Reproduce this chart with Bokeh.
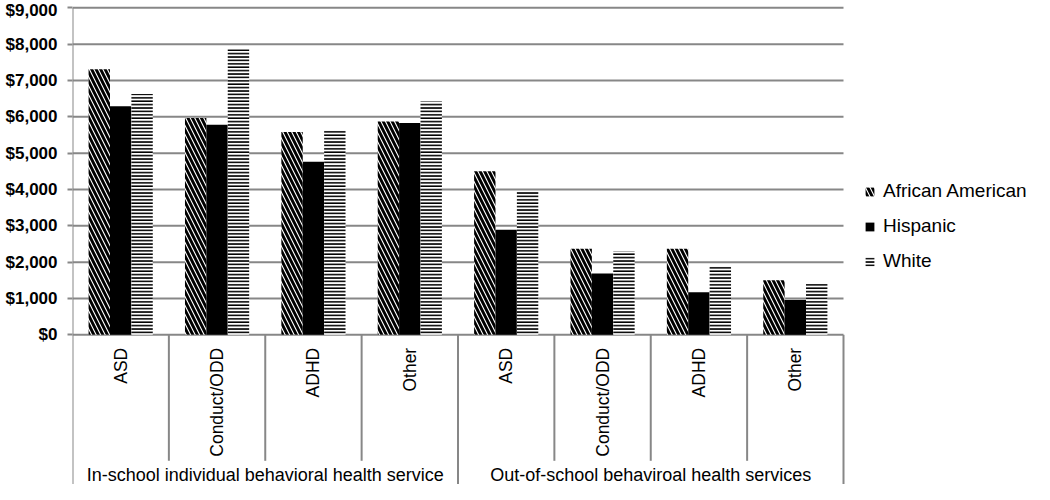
import math
from bokeh.plotting import figure
from bokeh.models import (ColumnDataSource, Range1d, FixedTicker, NumeralTickFormatter,
                          Legend, LegendItem)
from bokeh.core.properties import value
from bokeh.embed import file_html
from bokeh.resources import INLINE

# ---------------- data ----------------
groups = ["In-school individual behavioral health service",
          "Out-of-school behaviroal health services"]
conditions = ["ASD", "Conduct/ODD", "ADHD", "Other"]
series_names = ["African American", "Hispanic", "White"]
african_american = [7310, 5970, 5580, 5870, 4500, 2370, 2370, 1500]
hispanic = [6290, 5780, 4760, 5830, 2890, 1690, 1170, 960]
white = [6630, 7860, 5630, 6420, 3930, 2290, 1890, 1400]
y_ticks = [0, 1000, 2000, 3000, 4000, 5000, 6000, 7000, 8000, 9000]

# ---------------- layout constants (pixels) ----------------
W, H = 1034, 484
BORDER_LEFT = 72
BORDER_TOP = 5
PX_X = 771 / 8.0            # px per category
PX_Y = 327 / 9000.0         # px per dollar
GRID = "#878787"
FONT = "Liberation Sans"

frame_w = W - BORDER_LEFT
frame_h = H - BORDER_TOP
x_end = frame_w / PX_X
y_end = 9000 + 2.3 / PX_Y
y_start = y_end - frame_h / PX_Y

p = figure(width=W, height=H, output_backend="svg", toolbar_location=None,
           x_range=Range1d(0, x_end), y_range=Range1d(y_start, y_end),
           x_axis_type=None, min_border_left=BORDER_LEFT, min_border_top=BORDER_TOP,
           min_border_bottom=0, min_border_right=0)
p.outline_line_color = None
p.xgrid.visible = False
p.ygrid.visible = False
p.background_fill_color = "white"
p.border_fill_color = "white"

# y axis
ax = p.yaxis[0]
ax.ticker = FixedTicker(ticks=y_ticks)
ax.formatter = NumeralTickFormatter(format="$0,0")
ax.axis_line_color = None
ax.major_tick_line_color = GRID
ax.major_tick_line_width = 2
ax.major_tick_out = 5
ax.major_tick_in = 0
ax.minor_tick_line_color = None
ax.major_label_standoff = 10
ax.major_label_text_font = FONT
ax.major_label_text_font_style = "bold"
ax.major_label_text_font_size = "17px"
ax.major_label_text_color = "black"

# gridlines (only across the bar area)
p.segment(x0=[0] * len(y_ticks), x1=[8] * len(y_ticks), y0=y_ticks, y1=y_ticks,
          line_color=GRID, line_width=2)

# vertical separators
n = len(groups) * len(conditions)
sep_bottom = -126 / PX_Y
cat_sep_x = [i for i in range(1, n) if i % len(conditions) != 0]
p.segment(x0=cat_sep_x, x1=cat_sep_x, y0=[0] * len(cat_sep_x), y1=[sep_bottom] * len(cat_sep_x),
          line_color=GRID, line_width=2)
grp_sep_x = [i * len(conditions) for i in range(len(groups) + 1)]
p.segment(x0=grp_sep_x, x1=grp_sep_x, y0=[0] * len(grp_sep_x), y1=[y_start] * len(grp_sep_x),
          line_color=GRID, line_width=2)
# y-axis line
p.segment(x0=[0], x1=[0], y0=[0], y1=[9000], line_color=GRID, line_width=2)

# bars
bw = 0.222
centers = [i + 0.5 for i in range(n)]
src = ColumnDataSource(dict(
    x_aa=[c - bw for c in centers], x_hi=centers, x_wh=[c + bw for c in centers],
    aa=african_american, hi=hispanic, wh=white))

r_aa = p.vbar(x="x_aa", top="aa", bottom=0, width=bw, source=src,
              fill_color="white", line_color=None,
              hatch_pattern="\\", hatch_color="black", hatch_scale=9, hatch_weight=2.9)
r_hi = p.vbar(x="x_hi", top="hi", bottom=0, width=bw, source=src,
              fill_color="black", line_color=None)
r_wh = p.vbar(x="x_wh", top="wh", bottom=0, width=bw, source=src,
              fill_color="white", line_color=None,
              hatch_pattern="-", hatch_color="black", hatch_scale=3.4, hatch_weight=1.7)

# category labels (rotated)
cat_labels = conditions * len(groups)
p.text(x=centers, y=[-13 / PX_Y] * n, text=cat_labels, angle=math.pi / 2,
       text_align="right", text_baseline="middle", text_font=value(FONT),
       text_font_size="17.5px", text_color="black")

# group labels
grp_x = [(i + 0.5) * len(conditions) for i in range(len(groups))]
p.text(x=grp_x, y=[-140 / PX_Y] * len(groups), text=groups,
       text_align="center", text_baseline="middle", text_font=value(FONT),
       text_font_size="18px", text_color="black")

# legend
legend = Legend(items=[LegendItem(label=series_names[0], renderers=[r_aa]),
                       LegendItem(label=series_names[1], renderers=[r_hi]),
                       LegendItem(label=series_names[2], renderers=[r_wh])],
                location=(792, 212))
legend.border_line_color = None
legend.background_fill_alpha = 0
legend.padding = 0
legend.margin = 0
legend.glyph_width = 11
legend.glyph_height = 11
legend.label_standoff = 8
legend.spacing = 13
legend.label_text_font = FONT
legend.label_text_font_size = "19px"
legend.label_text_color = "black"
p.add_layout(legend)

open("out.html", "w").write(file_html(p, INLINE))
